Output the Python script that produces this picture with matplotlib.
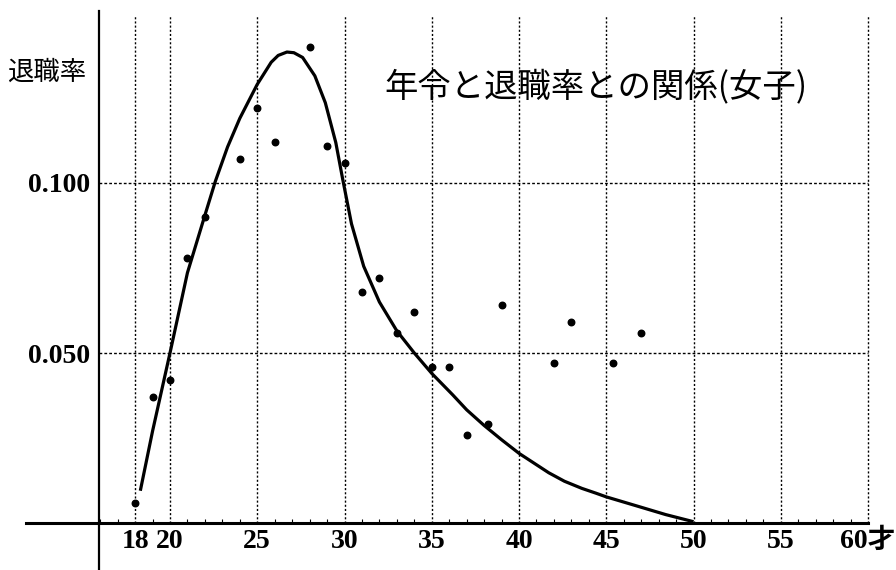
import matplotlib
matplotlib.use('Agg')
import matplotlib.pyplot as plt

# observed points (age, retirement rate)
ages = [18, 19, 20, 21, 22, 24, 25, 26, 28, 29, 30, 31, 32, 33, 34, 35, 36,
        37, 38.2, 39, 42, 43, 45.4, 47]
rates = [0.006, 0.037, 0.042, 0.078, 0.090, 0.107, 0.122, 0.112, 0.140,
         0.111, 0.106, 0.068, 0.072, 0.056, 0.062, 0.046, 0.046, 0.026,
         0.029, 0.064, 0.047, 0.059, 0.047, 0.056]

# fitted curve
curve_age = [18.3, 19.0, 20.0, 21.0, 22.0, 22.6, 23.3, 24.0, 25.0, 25.8,
             26.2, 26.7, 27.1, 27.6, 28.3, 28.9, 29.5, 29.9, 30.4, 31.1,
             32.0, 33.0, 34.0, 35.0, 36.2, 37.0, 38.0, 39.0, 40.0, 41.7,
             42.6, 43.6, 44.4, 45.0, 46.9, 48.4, 50.0]
curve_rate = [0.0095, 0.027, 0.050, 0.0736, 0.0905, 0.1005, 0.1106, 0.119,
              0.129, 0.1355, 0.1375, 0.1385, 0.1383, 0.1369, 0.1315, 0.1236,
              0.1119, 0.101, 0.088, 0.0755, 0.065, 0.0565, 0.050, 0.044,
              0.0377, 0.0333, 0.0287, 0.0245, 0.0205, 0.0148, 0.0123, 0.0102,
              0.0088, 0.0077, 0.0048, 0.0025, 0.0004]

x_ticks = [18, 20, 25, 30, 35, 40, 45, 50, 55, 60]
x_labels = ['18', '20', '25', '30', '35', '40', '45', '50', '55', '60才']
y_ticks = [0.05, 0.10]
y_labels = ['0.050', '0.100']

num_font = ['Liberation Serif', 'Noto Sans CJK JP']
jp_font = ['Noto Sans CJK JP', 'DejaVu Sans']

fig = plt.figure(figsize=(8.96, 5.70), dpi=100)
ax = fig.add_axes([0, 0, 1, 1])
ax.set_xlim(10.26, 61.6)
ax.set_ylim(-0.0138, 0.1538)

# grid
ax.vlines(x_ticks, 0, 0.149, colors='black', linewidth=1.0,
          linestyles=[(0, (1.5, 1.5))], zorder=1)
ax.hlines(y_ticks, 15.93, 60, colors='black', linewidth=1.0,
          linestyles=[(0, (2, 1.5))], zorder=1)

# data
ax.plot(curve_age, curve_rate, color='black', linewidth=2.3,
        solid_joinstyle='round', solid_capstyle='butt', zorder=3)
ax.scatter(ages, rates, s=22, color='black', zorder=4)

# cross-shaped axes
for side in ['top', 'right']:
    ax.spines[side].set_visible(False)
ax.spines['left'].set_position(('data', 15.93))
ax.spines['bottom'].set_position(('data', 0))
ax.spines['left'].set_bounds(-0.0138, 0.1506)
ax.spines['bottom'].set_bounds(11.75, 60)
ax.spines['left'].set_linewidth(1.6)
ax.spines['bottom'].set_linewidth(2.2)

ax.set_xticks(x_ticks)
ax.set_xticklabels(x_labels, fontfamily=num_font, fontweight='bold', fontsize=20)
ax.set_xticks(range(16, 61), minor=True)
ax.set_yticks(y_ticks)
ax.set_yticklabels(y_labels, fontfamily=num_font, fontweight='bold', fontsize=20)
ax.tick_params(axis='x', which='major', length=0, pad=4)
ax.tick_params(axis='y', which='major', length=0, pad=6)
ax.tick_params(axis='x', which='minor', direction='in', length=3, width=0.8)

ax.text(12.95, 0.1326, '退職率',
        fontfamily=jp_font, fontsize=19, ha='center', va='center')
ax.text(44.4, 0.1282, '年令と退職率との関係(女子)',
        fontfamily=jp_font, fontsize=24, ha='center', va='center')

fig.savefig('out.png', dpi=100)
